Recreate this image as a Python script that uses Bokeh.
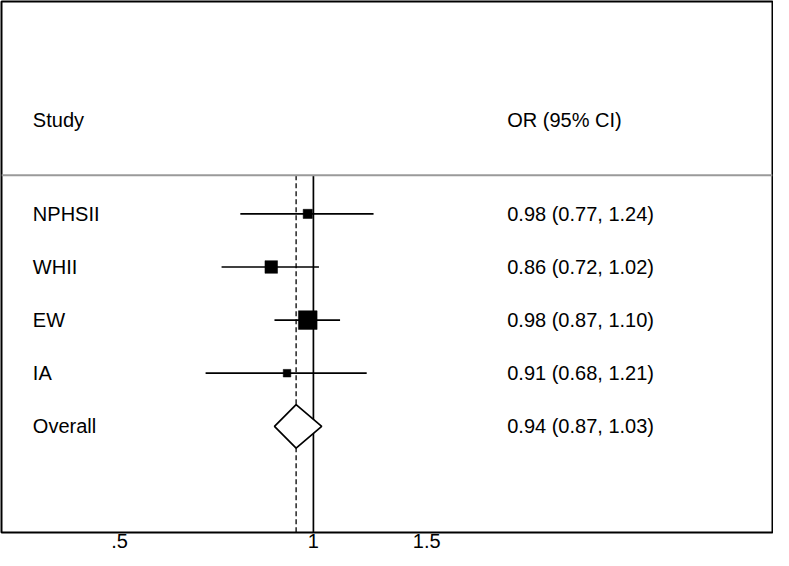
import numpy as np
from bokeh.plotting import figure
from bokeh.models import Range1d, FixedTicker, CustomJSTickFormatter, ColumnDataSource, Span
from bokeh.core.properties import value
from bokeh.embed import file_html
from bokeh.resources import INLINE

# ---- data ----
studies = ["NPHSII", "WHII", "EW", "IA"]
or_est = [0.98, 0.86, 0.98, 0.91]
ci_low = [0.77, 0.72, 0.87, 0.68]
ci_high = [1.24, 1.02, 1.10, 1.21]
weights = [13.0, 24.3, 53.7, 8.9]   # estimated study weights (%), set box areas
overall_label = "Overall"
overall_est = 0.94
overall_low = 0.87
overall_high = 1.03
tick_values = [0.5, 1, 1.5]
header_study = "Study"
header_or = "OR (95% CI)"

# ---- layout constants ----
FONT = "Liberation Sans"
FS = "20px"
rows = list(range(1, len(studies) + 1))
overall_row = len(studies) + 1
header_row = -0.76
rule_row = 0.27
y_top, y_bottom = -3.0, 7.0
x_left, x_right = 0.3277, 5.166
x_name = 0.3666
x_value = 2.0

p = figure(width=773, height=550, x_axis_type="log",
           x_range=Range1d(x_left, x_right), y_range=Range1d(y_bottom, y_top),
           y_axis_location=None, output_backend="svg", toolbar_location=None,
           min_border_left=1, min_border_right=1, min_border_top=1, min_border_bottom=0)
p.xgrid.visible = False
p.ygrid.visible = False
p.outline_line_color = "black"
p.outline_line_width = 2
p.background_fill_color = "white"
p.border_fill_color = "white"

# header rule
p.add_layout(Span(location=rule_row, dimension="width", line_color="#9a9a9a", line_width=2))

# reference lines: null (1) solid and overall estimate dashed
p.segment(x0=[1], y0=[rule_row], x1=[1], y1=[y_bottom], line_color="black", line_width=1.7)
p.segment(x0=[overall_est], y0=[rule_row], x1=[overall_est], y1=[y_bottom],
          line_color="black", line_width=1.3, line_dash="5 3")

# confidence intervals
src = ColumnDataSource(dict(y=rows, est=or_est, lo=ci_low, hi=ci_high,
                            size=[2.55 * np.sqrt(w) for w in weights]))
p.segment(x0="lo", y0="y", x1="hi", y1="y", source=src, line_color="black", line_width=1.7)
p.scatter(x="est", y="y", size="size", marker="square", source=src,
          fill_color="black", line_color="black", line_width=0.5)

# overall diamond
h = 0.41
p.patch(x=[overall_low, overall_est, overall_high, overall_est],
        y=[overall_row, overall_row - h, overall_row, overall_row + h],
        fill_color="white", line_color="black", line_width=1.7)

# text columns
names = studies + [overall_label]
est_all = or_est + [overall_est]
lo_all = ci_low + [overall_low]
hi_all = ci_high + [overall_high]
labels = [f"{e:.2f} ({l:.2f}, {u:.2f})" for e, l, u in zip(est_all, lo_all, hi_all)]
ys = rows + [overall_row]

txt_kw = dict(text_font=value(FONT), text_font_size=value(FS), text_color="black",
              text_baseline="middle", text_align="left")
p.text(x=[x_name] * len(names), y=ys, text=names, **txt_kw)
p.text(x=[x_value] * len(labels), y=ys, text=labels, **txt_kw)
p.text(x=[x_name], y=[header_row], text=[header_study], **txt_kw)
p.text(x=[x_value], y=[header_row], text=[header_or], **txt_kw)

# x axis
ax = p.xaxis[0]
ax.ticker = FixedTicker(ticks=tick_values, minor_ticks=[])
ax.formatter = CustomJSTickFormatter(code="return String(tick).replace(/^0\\./, '.');")
ax.axis_line_color = None
ax.major_tick_line_color = None
ax.minor_tick_line_color = None
ax.major_tick_out = 0
ax.major_tick_in = 0
ax.major_label_standoff = 1
ax.major_label_text_font = FONT
ax.major_label_text_font_size = "20px"
ax.major_label_text_color = "black"

open("out.html", "w").write(file_html(p, INLINE))
